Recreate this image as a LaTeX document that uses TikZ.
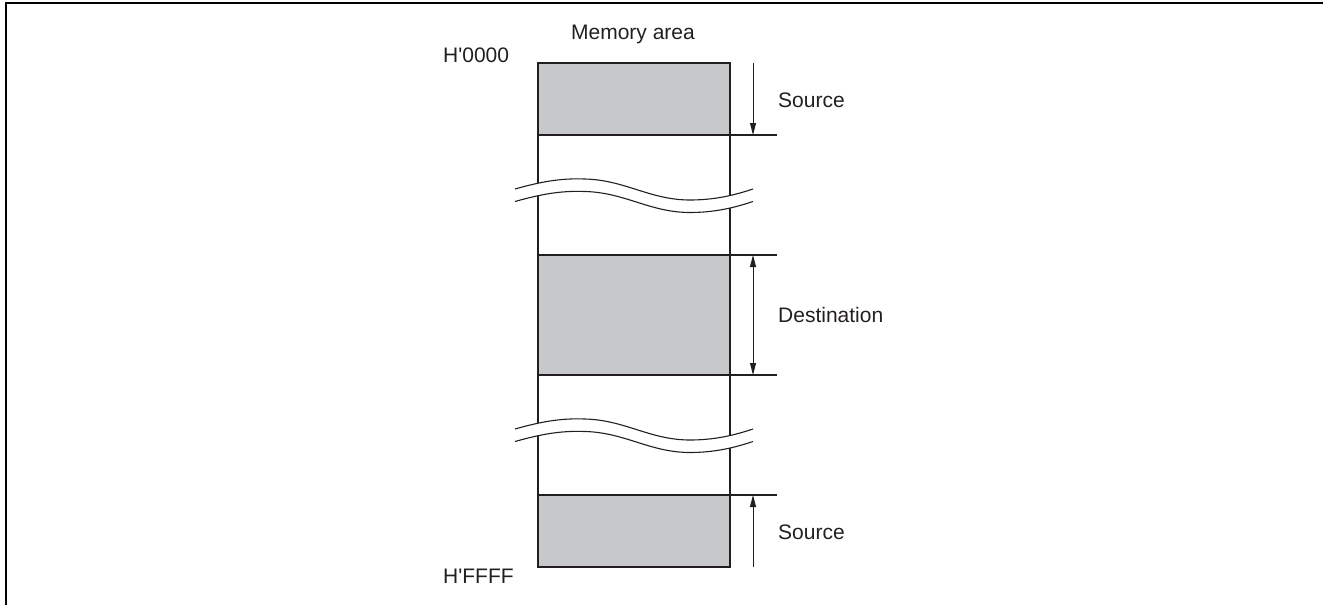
\documentclass[tikz,border=0pt]{standalone}
\usepackage{fontspec}
\setmainfont{Liberation Sans}[Ligatures=TeXOff]
\usetikzlibrary{arrows.meta}
\definecolor{memgray}{RGB}{199,200,202}
\definecolor{inkc}{RGB}{35,31,32}
\begin{document}
\begin{tikzpicture}[x=1pt,y=-1pt,
  lbl/.style={inner sep=0pt,font=\fontsize{21}{25}\selectfont,text=inkc},
  boxline/.style={draw=inkc,line width=2.2pt},
  sepline/.style={draw=inkc,line width=2pt},
  dimarrow/.style={draw=inkc,line width=1pt,-{Triangle[length=12pt,width=6pt]}},
  dimarrow2/.style={draw=inkc,line width=1pt,{Triangle[length=12pt,width=6pt]}-{Triangle[length=12pt,width=6pt]}},
  wave/.style={draw=inkc,line width=1.1pt}]
\useasboundingbox (0,0) rectangle (1323,605);
% frame
\draw[draw=black,line width=2pt] (6,605) -- (6,3) -- (1323,3);
% gray blocks
\fill[memgray] (538,63) rectangle (730,135);
\fill[memgray] (538,255) rectangle (730,375);
\fill[memgray] (538,495) rectangle (730,567);
% column
\draw[boxline] (538,63) -- (538,567);
\draw[boxline] (730,63) -- (730,567);
\draw[boxline] (536.9,63) -- (731.1,63);
\draw[boxline] (536.9,567) -- (731.1,567);
% separator lines
\coordinate (s1) at (538,135); \coordinate (e1) at (777,135);
\coordinate (s2) at (538,255); \coordinate (e2) at (777,255);
\coordinate (s3) at (538,375); \coordinate (e3) at (777,375);
\coordinate (s4) at (538,495); \coordinate (e4) at (777,495);
\draw[sepline] (s1) -- (e1);
\draw[sepline] (s2) -- (e2);
\draw[sepline] (s3) -- (e3);
\draw[sepline] (s4) -- (e4);
% wave breaks
\foreach \dy in {0,240}{
  \begin{scope}[yshift=-\dy pt]
  \fill[white] (515,189) .. controls (540,182) and (560,178) .. (585,179)
     .. controls (625,180) and (650,200) .. (690,200)
     .. controls (715,200) and (735,195) .. (753,189)
     -- (753,201.5) .. controls (735,207.5) and (715,212.5) .. (690,212.5)
     .. controls (650,212.5) and (625,192.5) .. (585,191.5)
     .. controls (560,190.5) and (540,194.5) .. (515,201.5) -- cycle;
  \draw[wave] (515,189) .. controls (540,182) and (560,178) .. (585,179)
     .. controls (625,180) and (650,200) .. (690,200)
     .. controls (715,200) and (735,195) .. (753,189);
  \draw[wave] (515,201.5) .. controls (540,194.5) and (560,190.5) .. (585,191.5)
     .. controls (625,192.5) and (650,212.5) .. (690,212.5)
     .. controls (715,212.5) and (735,207.5) .. (753,201.5);
  \end{scope}
}
% arrows
\coordinate (a1t) at (753,63);  \coordinate (a1b) at (753,135);
\coordinate (a2t) at (753,255); \coordinate (a2b) at (753,375);
\coordinate (a3t) at (753,495); \coordinate (a3b) at (753,567);
\draw[dimarrow] (a1t) -- (a1b);
\draw[dimarrow2] (a2t) -- (a2b);
\draw[dimarrow] (a3b) -- (a3t);
% labels
\node[lbl,anchor=base] (title) at (633,39.5) {Memory area};
\node[lbl,anchor=base west] (h0) at (443,62) {H'0000};
\node[lbl,anchor=base west] (hf) at (443,583) {H'FFFF};
\node[lbl,anchor=base west] (src1) at (778,107.5) {Source};
\node[lbl,anchor=base west] (dst) at (778,322.5) {Destination};
\node[lbl,anchor=base west] (src2) at (778,539.5) {Source};
\end{tikzpicture}
\end{document}
